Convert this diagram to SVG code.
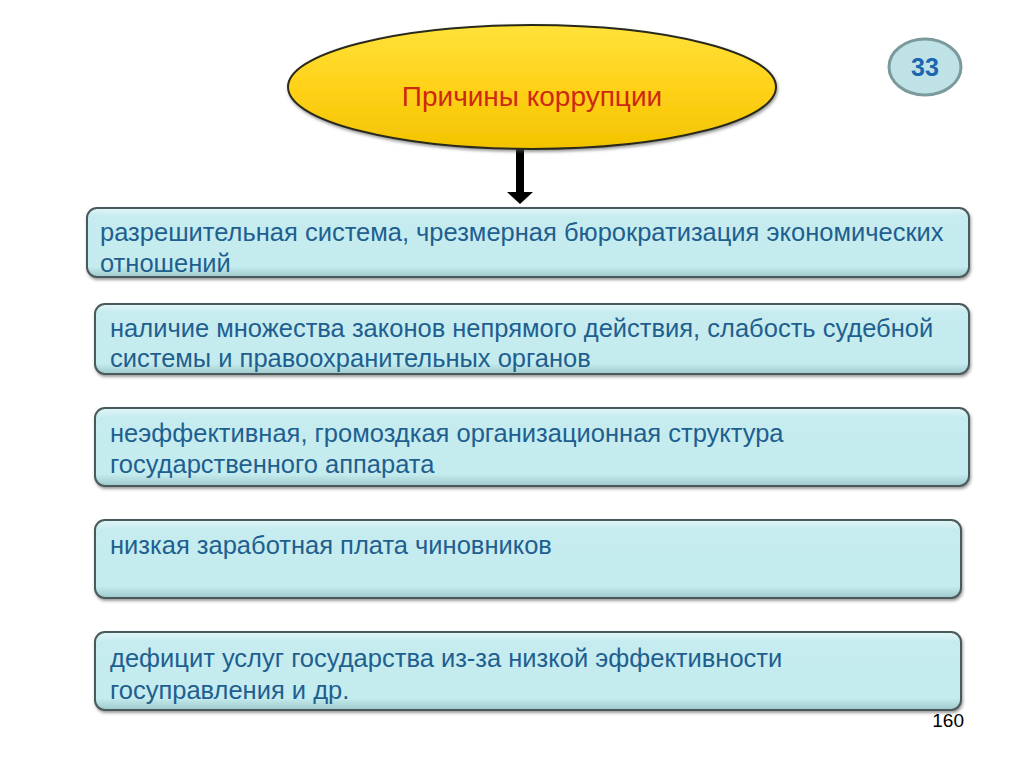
<svg xmlns="http://www.w3.org/2000/svg" width="1024" height="767" viewBox="0 0 1024 767">
<defs>
<linearGradient id="yel" x1="0" y1="0" x2="0" y2="1">
<stop offset="0" stop-color="#ffe23a"/><stop offset="0.5" stop-color="#ffd21a"/><stop offset="1" stop-color="#f2c400"/>
</linearGradient>
<linearGradient id="cy" x1="0" y1="0" x2="0" y2="1">
<stop offset="0" stop-color="#e2f6f8"/><stop offset="0.12" stop-color="#c6ecef"/><stop offset="0.85" stop-color="#c4ebee"/><stop offset="1" stop-color="#9fc9cc"/>
</linearGradient>
<filter id="sh" x="-5%" y="-20%" width="110%" height="150%">
<feDropShadow dx="1" dy="2" stdDeviation="1.5" flood-color="#555" flood-opacity="0.6"/>
</filter>
</defs>
<style>
.box{fill:url(#cy);stroke:#4a5a5c;stroke-width:2;filter:url(#sh)}
.t{font-family:"Liberation Sans",Arial,sans-serif;font-size:25.5px;fill:#1f5f8f}
</style>
<rect width="1024" height="767" fill="#fff"/>
<g id="connectors">
<rect x="516" y="147" width="8" height="46" fill="#000"/>
<polygon points="507,192 533,192 520,204" fill="#000"/>
</g>
<g id="title">
<ellipse cx="532" cy="87" rx="244" ry="62" fill="url(#yel)" stroke="#2a2a1a" stroke-width="2" filter="url(#sh)"/>
<text x="532" y="106" text-anchor="middle" font-family="Liberation Sans,Arial,sans-serif" font-size="28" fill="#cc2a10">Причины коррупции</text>
</g>
<g id="badge">
<ellipse cx="925" cy="67" rx="36" ry="28" fill="#bfe2e6" stroke="#7a9a9c" stroke-width="3"/>
<text x="925" y="76" text-anchor="middle" font-family="Liberation Sans,Arial,sans-serif" font-size="25" font-weight="bold" fill="#1a66b0">33</text>
</g>
<g id="n1">
<rect class="box" x="87" y="208" width="882" height="69" rx="10"/>
<text class="t" x="100" y="241">разрешительная система, чрезмерная бюрократизация экономических</text>
<text class="t" x="100" y="272">отношений</text>
</g>
<g id="n2">
<rect class="box" x="95" y="304" width="874" height="70" rx="10"/>
<text class="t" x="110" y="337">наличие множества законов непрямого действия, слабость судебной</text>
<text class="t" x="110" y="367">системы и правоохранительных органов</text>
</g>
<g id="n3">
<rect class="box" x="95" y="408" width="874" height="78" rx="10"/>
<text class="t" x="110" y="442">неэффективная, громоздкая организационная структура</text>
<text class="t" x="110" y="473">государственного аппарата</text>
</g>
<g id="n4">
<rect class="box" x="95" y="520" width="866" height="78" rx="10"/>
<text class="t" x="110" y="554">низкая заработная плата чиновников</text>
</g>
<g id="n5">
<rect class="box" x="95" y="632" width="866" height="78" rx="10"/>
<text class="t" x="110" y="667">дефицит услуг государства из-за низкой эффективности</text>
<text class="t" x="110" y="699">госуправления и др.</text>
</g>
<text x="964" y="727" text-anchor="end" font-family="Liberation Sans,Arial,sans-serif" font-size="19" fill="#000">160</text>
</svg>
